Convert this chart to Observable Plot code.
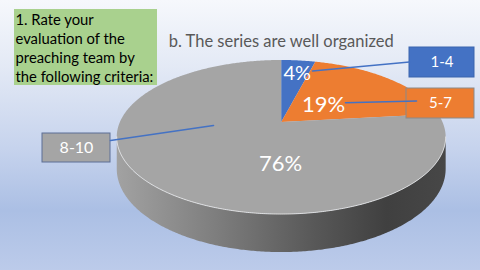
<!DOCTYPE html>
<html><head><meta charset="utf-8">
<script src="https://cdn.jsdelivr.net/npm/d3@7"></script>
<script src="https://cdn.jsdelivr.net/npm/@observablehq/plot@0.6"></script>
<style>
html,body{margin:0;padding:0;}
#chart{width:480px;height:270px;background:linear-gradient(180deg,#f6f8fc 0%,#e3e9f5 25%,#c6d3ed 55%,#abbfe4 78%,#bccbea 100%);}
#chart svg{display:block;}
</style></head><body><div id="chart"></div>
<script>
// ---- data ----
const categories = ["1-4", "5-7", "8-10"];
const values = [4, 19, 76];              // percent
const sliceColors = ["#4472c4", "#ed7d31", "#a5a5a5"];
const title = "b. The series are well organized";
const noteLines = ["1. Rate your", "evaluation of the", "preaching team by", "the following criteria:"];

// ---- layout (positions / styles) ----
const FONT = "Lato, 'Open Sans', sans-serif";
const pie = {cx: 280.7, cy: 121.5, R: 161.3, ry: 74.1, k: 0.195, H: 30.6};
const pctLabel = [{x: 296.7, y: 79, size: 20}, {x: 323, y: 111.5, size: 22}, {x: 280, y: 170, size: 22}];
const catBox = [
  {x1: 409, x2: 474, y1: 47, y2: 77, stroke: "#3b64ad", size: 15, lx1: 312, ly1: 70.5, lx2: 409, ly2: 61.5},
  {x1: 406, x2: 474, y1: 88, y2: 118, stroke: "#8a8a8a", size: 15, lx1: 345, ly1: 102.3, lx2: 416, ly2: 100.5},
  {x1: 42, x2: 110, y1: 133, y2: 162, stroke: "#5d6f96", size: 16, lx1: 110, ly1: 140, lx2: 213, ly2: 125}
];
const noteBox = {x1: 14, x2: 157, y1: 9, y2: 85, fill: "#a9d18e"};

// ---- geometry ----
function proj(theta, drop) {
  const u = Math.sin(theta), z = Math.cos(theta);
  const p = 1 / (1 + pie.k * z);
  return {x: pie.cx + pie.R * u * p, y: pie.cy - pie.ry * z * p + drop * p};
}
const total = d3.sum(values);
let cum = 0;
const slices = categories.map((c, i) => {
  const a0 = cum / total * 2 * Math.PI;
  cum += values[i];
  const a1 = cum / total * 2 * Math.PI;
  return {cat: c, value: values[i], a0, a1, color: sliceColors[i]};
});
function arc(a0, a1, drop) {
  const n = Math.max(2, Math.ceil((a1 - a0) / 0.01));
  return d3.range(n + 1).map(j => proj(a0 + (a1 - a0) * j / n, drop));
}
// silhouette angles
const samples = d3.range(0, 3600).map(j => j / 3600 * 2 * Math.PI);
const thR = samples[d3.maxIndex(samples, t => proj(t, 0).x)];
const thL = samples[d3.minIndex(samples, t => proj(t, 0).x)];

const topPolys = slices.map(s => [{x: pie.cx, y: pie.cy}, ...arc(s.a0, s.a1, 0), {x: pie.cx, y: pie.cy}]);
const sidePolys = slices.map(s => {
  const a = Math.max(s.a0, thR), b = Math.min(s.a1, thL);
  if (b <= a) return null;
  return [...arc(a, b, 0), ...arc(a, b, pie.H).reverse()];
}).filter(Boolean);
const frontEdge = arc(thR, thL, 0);

const leaders = catBox.map(b => [{x: b.lx1, y: b.ly1}, {x: b.lx2, y: b.ly2}]);

const marks = [
  ...sidePolys.map(poly => Plot.line(poly, {x: "x", y: "y", fill: "url(#sideGrad)", stroke: "none"})),
  ...topPolys.map((poly, i) => Plot.line(poly, {x: "x", y: "y", fill: slices[i].color, stroke: "none"})),
  Plot.line(frontEdge, {x: "x", y: "y", stroke: "#f0f0f0", strokeWidth: 1, strokeOpacity: 0.8}),
  // note box
  Plot.rect([noteBox], {x1: "x1", x2: "x2", y1: "y1", y2: "y2", fill: "fill"}),
  Plot.text([noteLines.join("\n")], {x: noteBox.x1 + 1, y: 81.7, text: d => d, textAnchor: "start", lineAnchor: "bottom",
    lineHeight: 1.29, fontSize: 14.8, fontFamily: FONT, fill: "#000"}),
  // title
  Plot.text([title], {x: pie.cx, y: 46, text: d => d, textAnchor: "middle", lineAnchor: "bottom",
    fontSize: 16.5, fontFamily: FONT, fill: "#595959"}),
  // category boxes
  Plot.rect(catBox, {x1: "x1", x2: "x2", y1: "y1", y2: "y2", fill: (d, i) => sliceColors[i], stroke: "stroke", strokeWidth: 1}),
  ...leaders.map(l => Plot.line(l, {x: "x", y: "y", stroke: "#4472c4", strokeWidth: 1.6})),
  Plot.text(catBox, {x: d => (d.x1 + d.x2) / 2, y: d => (d.y1 + d.y2) / 2, text: (d, i) => categories[i],
    fontSize: d => d.size, fontFamily: FONT, fill: "white", lineAnchor: "middle"}),
  // percentage labels
  Plot.text(pctLabel, {x: "x", y: "y", text: (d, i) => values[i] + "%", fontSize: "size", fontFamily: FONT,
    fill: "white", textAnchor: "middle", lineAnchor: "bottom"})
];

const svg = Plot.plot({
  width: 480, height: 270, margin: 0,
  x: {type: "linear", domain: [0, 480], range: [0, 480], axis: null},
  y: {type: "linear", domain: [0, 270], range: [0, 270], axis: null},
  style: {background: "transparent", overflow: "visible"},
  marks
});
const defs = d3.select(svg).insert("defs", ":first-child");
const g = defs.append("linearGradient").attr("id", "sideGrad").attr("gradientUnits", "userSpaceOnUse")
  .attr("x1", pie.cx - pie.R * 1.02).attr("x2", pie.cx + pie.R * 1.02).attr("y1", 0).attr("y2", 0);
[[0, "#a2a2a2"], [0.3, "#7e7e7e"], [0.6, "#585858"], [0.82, "#404040"], [1, "#474747"]]
  .forEach(([o, c]) => g.append("stop").attr("offset", o).attr("stop-color", c));
document.getElementById("chart").appendChild(svg);
</script></body></html>
